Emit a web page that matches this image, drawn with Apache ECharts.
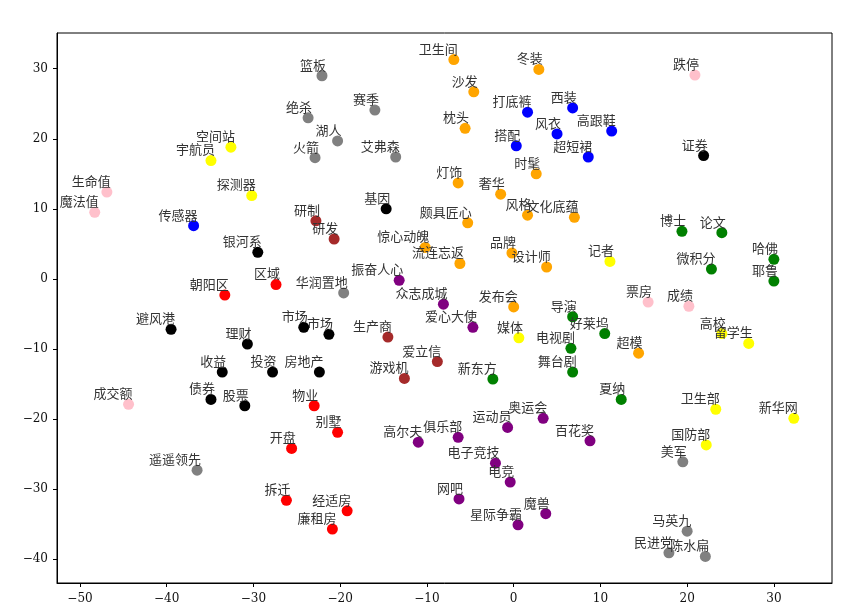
<!DOCTYPE html>
<html>
<head>
<meta charset="utf-8">
<script src="https://cdn.jsdelivr.net/npm/echarts@6/dist/echarts.min.js"></script>
<style>
  html, body { margin: 0; padding: 0; background: #fff; }
  #main { width: 857px; height: 608px; }
</style>
</head>
<body>
<div id="main"></div>
<script>
// 词向量二维投影：每组一个颜色
const grayWords = ['篮板', '绝杀', '赛季', '湖人', '火箭', '艾弗森', '华润置地', '遥遥领先', '美军', '马英九', '民进党', '陈水扁']
const grayX = [-22.1, -23.7, -16.0, -20.3, -22.9, -13.6, -19.6, -36.5, 19.5, 20.0, 17.9, 22.1]
const grayY = [29.0, 23.0, 24.1, 19.7, 17.3, 17.4, -2.0, -27.3, -26.1, -36.0, -39.1, -39.6]

const orangeWords = ['卫生间', '冬装', '沙发', '枕头', '时髦', '灯饰', '奢华', '风格', '文化底蕴', '颇具匠心', '惊心动魄', '流连忘返', '品牌', '设计师', '发布会', '超模']
const orangeX = [-6.9, 2.9, -4.6, -5.6, 2.6, -6.4, -1.5, 1.6, 7.0, -5.3, -10.2, -6.2, -0.2, 3.8, 0.0, 14.4]
const orangeY = [31.3, 29.9, 26.7, 21.5, 15.0, 13.7, 12.1, 9.1, 8.8, 8.0, 4.5, 2.2, 3.7, 1.7, -4.0, -10.6]

const blueWords = ['打底裤', '西装', '风衣', '高跟鞋', '搭配', '超短裙', '传感器']
const blueX = [1.6, 6.8, 5.0, 11.3, 0.3, 8.6, -36.9]
const blueY = [23.8, 24.4, 20.7, 21.1, 19.0, 17.4, 7.6]

const yellowWords = ['空间站', '宇航员', '探测器', '记者', '媒体', '高校', '留学生', '卫生部', '新华网', '国防部']
const yellowX = [-32.6, -34.9, -30.2, 11.1, 0.6, 24.0, 27.1, 23.3, 32.3, 22.2]
const yellowY = [18.8, 16.9, 11.9, 2.5, -8.4, -7.8, -9.2, -18.6, -19.9, -23.7]

const pinkWords = ['跌停', '生命值', '魔法值', '票房', '成绩', '成交额']
const pinkX = [20.9, -46.9, -48.3, 15.5, 20.2, -44.4]
const pinkY = [29.1, 12.4, 9.5, -3.3, -3.9, -17.9]

const blackWords = ['证券', '基因', '银河系', '避风港', '理财', '市场', '市场', '收益', '投资', '房地产', '债券', '股票']
const blackX = [21.9, -14.7, -29.5, -39.5, -30.7, -24.2, -21.3, -33.6, -27.8, -22.4, -34.9, -31.0]
const blackY = [17.6, 10.0, 3.8, -7.2, -9.3, -6.9, -7.9, -13.3, -13.3, -13.3, -17.2, -18.1]

const redWords = ['朝阳区', '区域', '物业', '别墅', '开盘', '拆迁', '经适房', '廉租房']
const redX = [-33.3, -27.4, -23.0, -20.3, -25.6, -26.2, -19.2, -20.9]
const redY = [-2.3, -0.8, -18.1, -21.9, -24.2, -31.6, -33.1, -35.7]

const brownWords = ['研制', '研发', '生产商', '爱立信', '游戏机']
const brownX = [-22.8, -20.7, -14.5, -8.8, -12.6]
const brownY = [8.3, 5.7, -8.3, -11.8, -14.2]

const purpleWords = ['振奋人心', '众志成城', '爱心大使', '奥运会', '运动员', '俱乐部', '高尔夫', '百花奖', '电子竞技', '电竞', '网吧', '魔兽', '星际争霸']
const purpleX = [-13.2, -8.1, -4.7, 3.4, -0.7, -6.4, -11.0, 8.8, -2.1, -0.4, -6.3, 3.7, 0.5]
const purpleY = [-0.2, -3.6, -6.9, -19.9, -21.2, -22.6, -23.3, -23.1, -26.3, -29.0, -31.4, -33.5, -35.1]

const greenWords = ['博士', '论文', '哈佛', '微积分', '耶鲁', '导演', '好莱坞', '电视剧', '舞台剧', '新东方', '夏纳']
const greenX = [19.4, 24.0, 30.0, 22.8, 30.0, 6.8, 10.5, 6.6, 6.8, -2.4, 12.4]
const greenY = [6.8, 6.6, 2.8, 1.4, -0.3, -5.4, -7.8, -9.9, -13.3, -14.3, -17.2]

const xTicks = [-50, -40, -30, -20, -10, 0, 10, 20, 30]
const yTicks = [-40, -30, -20, -10, 0, 10, 20, 30]

const groups = [
  { color: 'gray', words: grayWords, x: grayX, y: grayY },
  { color: 'orange', words: orangeWords, x: orangeX, y: orangeY },
  { color: 'blue', words: blueWords, x: blueX, y: blueY },
  { color: 'yellow', words: yellowWords, x: yellowX, y: yellowY },
  { color: 'pink', words: pinkWords, x: pinkX, y: pinkY },
  { color: 'black', words: blackWords, x: blackX, y: blackY },
  { color: 'red', words: redWords, x: redX, y: redY },
  { color: 'brown', words: brownWords, x: brownX, y: brownY },
  { color: 'purple', words: purpleWords, x: purpleX, y: purpleY },
  { color: 'green', words: greenWords, x: greenX, y: greenY }
]

const tickFont = 'DejaVu Serif'
const minusFmt = (v) => String(v).replace('-', '\u2212')

const myChart = echarts.init(document.getElementById('main'))

myChart.setOption({
  animation: false,
  backgroundColor: '#fff',
  grid: {
    left: 57,
    right: 25,
    top: 33,
    bottom: 25,
    show: true,
    borderColor: '#000',
    borderWidth: 1
  },
  xAxis: {
    type: 'value',
    min: -52.65,
    max: 36.7,
    splitLine: { show: false },
    axisLine: { show: true, onZero: false, lineStyle: { color: '#000' } },
    axisTick: { show: true, customValues: xTicks, length: 4, lineStyle: { color: '#000' } },
    axisLabel: {
      customValues: xTicks,
      formatter: minusFmt,
      color: '#111',
      fontFamily: tickFont,
      fontSize: 12,
      margin: 10
    }
  },
  yAxis: {
    type: 'value',
    min: -43.4,
    max: 35.1,
    splitLine: { show: false },
    axisLine: { show: true, onZero: false, lineStyle: { color: '#000' } },
    axisTick: { show: true, customValues: yTicks, length: 4, lineStyle: { color: '#000' } },
    axisLabel: {
      customValues: yTicks,
      formatter: minusFmt,
      color: '#111',
      fontFamily: tickFont,
      fontSize: 12,
      margin: 9
    }
  },
  series: groups.map((g) => ({
    type: 'scatter',
    symbolSize: 11,
    itemStyle: { color: g.color, opacity: 1 },
    label: {
      show: true,
      position: 'inside',
      align: 'right',
      verticalAlign: 'middle',
      offset: [4, -11],
      color: '#333',
      fontFamily: 'Noto Sans CJK SC',
      fontSize: 13,
      formatter: (p) => p.data[2]
    },
    data: g.words.map((w, i) => [g.x[i], g.y[i], w])
  }))
})
</script>
</body>
</html>
